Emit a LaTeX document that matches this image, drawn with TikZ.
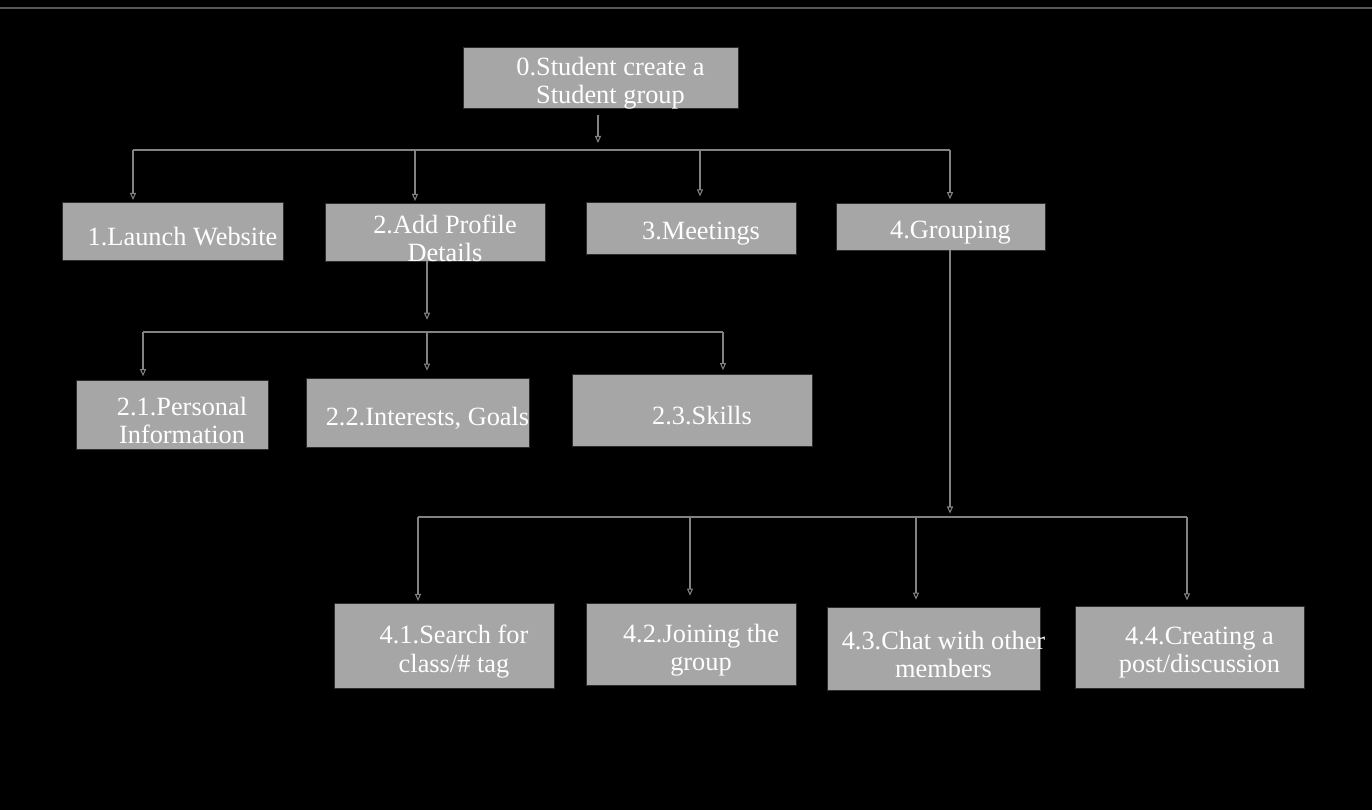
\documentclass[tikz,border=0pt]{standalone}
\usepackage{fontspec}
\setmainfont{Liberation Serif}
\usetikzlibrary{arrows.meta}
\definecolor{boxgray}{RGB}{166,166,166}
\definecolor{edgegray}{RGB}{45,45,45}
\definecolor{linegray}{RGB}{130,130,130}
\definecolor{rulegray}{RGB}{85,85,85}

\begin{document}
\begin{tikzpicture}[x=0.02cm,y=-0.02cm,%
  box/.style={draw=edgegray,fill=boxgray,inner sep=0pt,label={[boxtext]center:#1}},%
  boxtext/.style={text=white,align=center,inner sep=0pt,xshift=0.2cm,yshift=-0.12cm,font=\fontsize{15}{16}\selectfont},%
  arr/.style={-{Triangle[open,length=4pt,width=3.5pt]},draw=linegray,line width=0.6pt},%
  bus/.style={draw=linegray,line width=0.8pt}%
  ]
  \useasboundingbox (0,0) rectangle (1372,809);
  \fill[black] (-5,-5) rectangle (1377,814);
  \draw[rulegray,line width=1pt] (-5,8) -- (1377,8);
%
  \node (s) [box={0.Student create a\\Student group},minimum width=5.5cm,minimum height=1.22cm] at (600.5,77.5) {};
%
  \node (b1) [box={1.Launch Website},minimum width=4.42cm,minimum height=1.16cm] at (172.5,231) {};
  \node (b2) [box={2.Add Profile\\Details},minimum width=4.4cm,minimum height=1.16cm] at (435,232) {};
  \node (b3) [box={3.Meetings},minimum width=4.2cm,minimum height=1.04cm] at (691,228) {};
  \node (b4) [box={4.Grouping},minimum width=4.18cm,minimum height=0.94cm] at (940.5,226.5) {};
%
  \node (b2-1) [box={2.1.Personal\\Information},minimum width=3.84cm,minimum height=1.38cm] at (172,414.5) {};
  \node (b2-2) [box={2.2.Interests, Goals},minimum width=4.46cm,minimum height=1.38cm] at (417.5,412.5) {};
  \node (b2-3) [box={2.3.Skills},minimum width=4.8cm,minimum height=1.44cm] at (692,410) {};
%
  \node (b4-1) [box={4.1.Search for\\class/\# tag},minimum width=4.4cm,minimum height=1.7cm] at (444,645.5) {};
  \node (b4-2) [box={4.2.Joining the\\group},minimum width=4.2cm,minimum height=1.64cm] at (691,644) {};
  \node (b4-3) [box={4.3.Chat with other\\members},minimum width=4.26cm,minimum height=1.66cm] at (933.5,648.5) {};
  \node (b4-4) [box={4.4.Creating a\\post/discussion},minimum width=4.58cm,minimum height=1.64cm] at (1189.5,647) {};
%
  \coordinate (t0) at (598,150);
  \coordinate (d1) at (133,150);
  \coordinate (d2) at (415,150);
  \coordinate (d3) at (700,150);
  \coordinate (d4) at (950,150);
%
  \coordinate (e0) at (427,332);
  \coordinate (e1) at (143,332);
  \coordinate (e3) at (723,332);
%
  \coordinate (f0) at (950,517);
  \coordinate (f1) at (418,517);
  \coordinate (f2) at (690,517);
  \coordinate (f3) at (916,517);
  \coordinate (f4) at (1187,517);
%
  \draw[arr,shorten <=4pt,shorten >=4pt] (s.south -| t0) -- (t0);
  \draw[bus] (d1) -- (d4);
  \draw[arr,shorten >=1pt] (d1) -- (d1 |- b1.north);
  \draw[arr,shorten >=1pt] (d2) -- (d2 |- b2.north);
  \draw[arr,shorten >=3pt] (d3) -- (d3 |- b3.north);
  \draw[arr,shorten >=2pt] (d4) -- (d4 |- b4.north);
%
  \draw[arr,shorten >=7pt] (b2.south -| e0) -- (e0);
  \draw[bus] (e1) -- (e3);
  \draw[arr,shorten >=2pt] (e1) -- (e1 |- b2-1.north);
  \draw[arr,shorten >=4pt] (e0) -- (e0 |- b2-2.north);
  \draw[arr,shorten >=2pt] (e3) -- (e3 |- b2-3.north);
%
  \draw[arr,shorten >=2pt] (b4.south -| f0) -- (f0);
  \draw[bus] (f1) -- (f4);
  \draw[arr,shorten >=1pt] (f1) -- (f1 |- b4-1.north);
  \draw[arr,shorten >=4pt] (f2) -- (f2 |- b4-2.north);
  \draw[arr,shorten >=4pt] (f3) -- (f3 |- b4-3.north);
  \draw[arr,shorten >=3pt] (f4) -- (f4 |- b4-4.north);
%
\end{tikzpicture}
\end{document}
